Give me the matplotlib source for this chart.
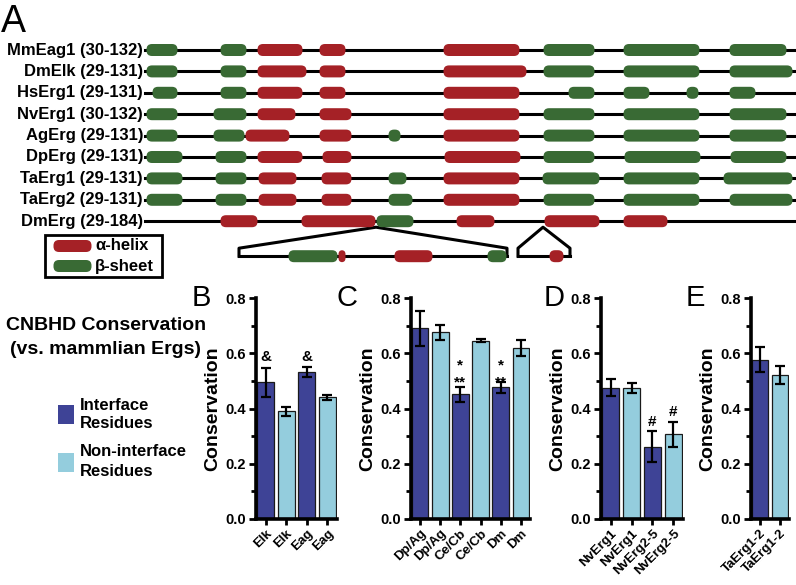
import numpy as np
import matplotlib.pyplot as plt
from matplotlib.patches import FancyBboxPatch, Rectangle

plt.rcParams['font.family'] = ['Liberation Sans', 'DejaVu Sans']
plt.rcParams['font.weight'] = 'bold'
plt.rcParams['axes.labelweight'] = 'bold'

RED = '#a52126'
GREEN = '#396a34'
DARK = '#3e4396'
LIGHT = '#94cddd'

# ---- panel A: secondary structure along each CNBHD track (a = helix, b = sheet)
names = ['MmEag1 (30-132)', 'DmElk (29-131)', 'HsErg1 (29-131)', 'NvErg1 (30-132)',
         'AgErg (29-131)', 'DpErg (29-131)', 'TaErg1 (29-131)', 'TaErg2 (29-131)',
         'DmErg (29-184)']
mmeag1 = [(146, 178, 'b'), (220, 247, 'b'), (257, 303, 'a'), (319, 346, 'a'),
          (443, 520, 'a'), (543, 595, 'b'), (623, 700, 'b'), (729, 787, 'b')]
dmelk = [(146, 178, 'b'), (220, 247, 'b'), (257, 307, 'a'), (319, 346, 'a'),
         (443, 527, 'a'), (543, 595, 'b'), (623, 700, 'b'), (729, 793, 'b')]
hserg1 = [(152, 178, 'b'), (220, 247, 'b'), (257, 303, 'a'), (319, 346, 'a'),
          (443, 520, 'a'), (568, 595, 'b'), (623, 650, 'b'), (686, 699, 'b'), (729, 756, 'b')]
nverg1 = [(146, 178, 'b'), (213, 247, 'b'), (257, 296, 'a'), (319, 352, 'a'),
          (443, 520, 'a'), (543, 595, 'b'), (623, 700, 'b'), (729, 787, 'b')]
agerg = [(146, 178, 'b'), (213, 245, 'b'), (245, 290, 'a'), (319, 352, 'a'), (388, 401, 'b'),
         (443, 520, 'a'), (543, 595, 'b'), (623, 700, 'b'), (729, 787, 'b')]
dperg = [(146, 183, 'b'), (215, 247, 'b'), (257, 303, 'a'), (322, 352, 'a'),
         (444, 521, 'a'), (543, 595, 'b'), (624, 701, 'b'), (730, 787, 'b')]
taerg1 = [(146, 183, 'b'), (215, 247, 'b'), (258, 297, 'a'), (321, 352, 'a'), (388, 407, 'b'),
          (443, 520, 'a'), (542, 600, 'b'), (623, 700, 'b'), (723, 793, 'b')]
taerg2 = [(146, 183, 'b'), (215, 247, 'b'), (258, 297, 'a'), (321, 352, 'a'), (388, 413, 'b'),
          (443, 520, 'a'), (543, 595, 'b'), (623, 700, 'b'), (729, 793, 'b')]
dmerg = [(220, 258, 'a'), (301, 376, 'a'), (376, 414, 'b'), (456, 495, 'a'),
         (544, 600, 'a'), (623, 668, 'a')]
tracks = [mmeag1, dmelk, hserg1, nverg1, agerg, dperg, taerg1, taerg2, dmerg]
# DmErg insertions shown below the track
insert1 = [(288, 338, 'b'), (338, 346, 'a'), (394, 433, 'a'), (487, 507, 'b')]
insert2 = [(549, 564, 'a')]

# ---- panels B-E: conservation vs. mammalian Ergs (interface, non-interface pairs)
b_labels = ['Elk', 'Elk', 'Eag', 'Eag']
b_vals = [0.495, 0.390, 0.532, 0.440]
b_errs = [0.052, 0.016, 0.018, 0.010]
b_marks = [(0, 0.588, '&'), (2, 0.588, '&')]

c_labels = ['Dp/Ag', 'Dp/Ag', 'Ce/Cb', 'Ce/Cb', 'Dm', 'Dm']
c_vals = [0.690, 0.676, 0.452, 0.645, 0.477, 0.619]
c_errs = [0.063, 0.028, 0.027, 0.005, 0.020, 0.028]
c_marks = [(2, 0.555, '*'), (2, 0.495, '**'), (4, 0.555, '*'), (4, 0.495, '**')]

d_labels = ['NvErg1', 'NvErg1', 'NvErg2-5', 'NvErg2-5']
d_vals = [0.475, 0.473, 0.262, 0.307]
d_errs = [0.030, 0.018, 0.055, 0.045]
d_marks = [(2, 0.352, '#'), (3, 0.388, '#')]

e_labels = ['TaErg1-2', 'TaErg1-2']
e_vals = [0.577, 0.522]
e_errs = [0.045, 0.032]
e_marks = []

fig = plt.figure(figsize=(7.96, 5.85), dpi=100)
axA = fig.add_axes([0, 0, 1, 1])
axA.set_xlim(0, 796)
axA.set_ylim(585, 0)
axA.axis('off')


def pill(ax, x0, x1, y, kind, h=12):
    rs = min(5.5, (x1 - x0) / 2)
    col = RED if kind == 'a' else GREEN
    ax.add_patch(FancyBboxPatch((x0 + 0.5, y - h / 2), x1 - x0 - 1, h,
                                boxstyle='round,pad=0,rounding_size=%g' % rs,
                                fc=col, ec='none', zorder=3))


row_y = 50 + np.arange(len(names)) * 21.4
for name, doms, y in zip(names, tracks, row_y):
    axA.plot([145, 794], [y, y], color='black', lw=2.2, zorder=2)
    for x0, x1, k in doms:
        pill(axA, x0, x1, y, k)
    axA.text(143, y, name, ha='right', va='center', fontsize=12)

# expanded insertions of DmErg
yl = row_y[-1] + 35
axA.plot([239, 239, 376, 507, 507], [yl, yl - 8, row_y[-1] + 6, yl - 8, yl],
         color='black', lw=2.2, zorder=2)
axA.plot([239, 507], [yl, yl], color='black', lw=2.2, zorder=2)
for x0, x1, k in insert1:
    pill(axA, x0, x1, yl, k)
axA.plot([518, 518, 543, 570, 570], [yl, yl - 8, row_y[-1] + 6, yl - 8, yl],
         color='black', lw=2.2, zorder=2)
axA.plot([518, 570], [yl, yl], color='black', lw=2.2, zorder=2)
for x0, x1, k in insert2:
    pill(axA, x0, x1, yl, k)

# structure legend
axA.add_patch(Rectangle((45, 235), 117, 42, fill=False, ec='black', lw=2, zorder=4))
pill(axA, 53, 92, 246, 'a')
pill(axA, 53, 92, 266, 'b')
axA.text(95, 246, 'α-helix', va='center', fontsize=12)
axA.text(95, 266, 'β-sheet', va='center', fontsize=12)

# left side key for B-E
axA.text(106, 326, 'CNBHD Conservation', ha='center', va='center', fontsize=14)
axA.text(106, 350, '(vs. mammlian Ergs)', ha='center', va='center', fontsize=14)
axA.add_patch(Rectangle((58, 405), 16, 19, fc=DARK, ec='none'))
axA.text(80, 405, 'Interface', va='center', fontsize=12)
axA.text(80, 424, 'Residues', va='center', fontsize=12)
axA.add_patch(Rectangle((58, 453), 16, 19, fc=LIGHT, ec='none'))
axA.text(80, 452, 'Non-interface', va='center', fontsize=12)
axA.text(80, 471, 'Residues', va='center', fontsize=12)

# panel letters
axA.text(1, 32, 'A', fontsize=27, fontweight='normal')
axA.text(192, 306, 'B', fontsize=21, fontweight='normal')
axA.text(337, 306, 'C', fontsize=21, fontweight='normal')
axA.text(544, 306, 'D', fontsize=21, fontweight='normal')
axA.text(686, 306, 'E', fontsize=21, fontweight='normal')


def px(l, r, top, bot):
    return [l / 796, 1 - bot / 585, (r - l) / 796, (bot - top) / 585]


def bar_panel(rect, labels, vals, errs, marks):
    ax = fig.add_axes(rect)
    x = np.arange(len(vals))
    cols = [DARK, LIGHT] * (len(vals) // 2)
    ax.bar(x, vals, width=0.82, color=cols, edgecolor='#1a1a1a', linewidth=0.9,
           yerr=errs, capsize=3.5,
           error_kw=dict(elinewidth=1.6, capthick=1.6, ecolor='black'))
    ax.set_xlim(-0.46, len(vals) - 0.54)
    ax.set_ylim(0, 0.8)
    ax.set_yticks([0, 0.2, 0.4, 0.6, 0.8])
    ax.set_yticklabels(['0.0', '0.2', '0.4', '0.6', '0.8'], fontsize=10.5, fontweight='bold')
    ax.set_yticks([0.1, 0.3, 0.5, 0.7], minor=True)
    ax.set_xticks(x)
    ax.set_xticklabels(labels, rotation=45, ha='right', rotation_mode='anchor',
                       fontsize=9.5, fontweight='bold')
    ax.tick_params(axis='y', which='major', length=5, width=2, pad=2)
    ax.tick_params(axis='y', which='minor', length=3.5, width=2)
    ax.tick_params(axis='x', length=4, width=2, pad=2)
    for s in ['top', 'right']:
        ax.spines[s].set_visible(False)
    for s in ['left', 'bottom']:
        ax.spines[s].set_linewidth(2.6)
    ax.set_ylabel('Conservation', fontsize=14, fontweight='bold', labelpad=3)
    for i, yv, t in marks:
        ax.text(i, yv, t, ha='center', va='center', fontsize=11, fontweight='bold')
    return ax


bar_panel(px(256, 337, 298, 519), b_labels, b_vals, b_errs, b_marks)
bar_panel(px(411, 530, 298, 519), c_labels, c_vals, c_errs, c_marks)
bar_panel(px(601, 683, 298, 519), d_labels, d_vals, d_errs, d_marks)
bar_panel(px(751, 789, 298, 519), e_labels, e_vals, e_errs, e_marks)

fig.savefig('out.png', dpi=100)
